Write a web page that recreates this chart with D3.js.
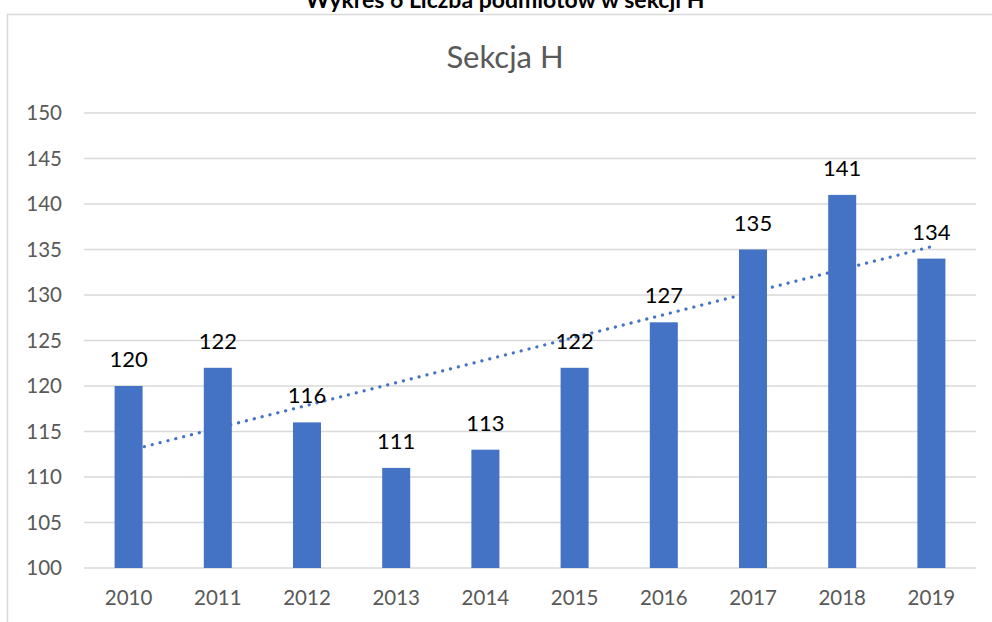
<!DOCTYPE html>
<html><head><meta charset="utf-8">
<script src="https://cdn.jsdelivr.net/npm/d3@7"></script>
<style>html,body{margin:0;padding:0;background:#fff;overflow:hidden}</style>
</head><body>
<svg id="c" width="992" height="622"></svg>
<script>
const years = ["2010","2011","2012","2013","2014","2015","2016","2017","2018","2019"];
const values = [120,122,116,111,113,122,127,135,141,134];
const yTicks = [100,105,110,115,120,125,130,135,140,145,150];
const chartTitle = "Sekcja H";
const pageTitle = "Wykres 6 Liczba podmiotów w sekcji H";

const svg = d3.select("#c");
const font = "Lato, 'Open Sans', sans-serif";
const blue = "#4472C4", grid = "#d9d9d9", txt = "#595959";

// outer title (clipped at top, as in the reference)
svg.append("text").attr("x", 505).attr("y", 8).attr("text-anchor","middle")
  .attr("font-family", font).attr("font-weight","bold").attr("font-size", 23)
  .attr("fill","#000").text(pageTitle);

// chart border
svg.append("rect").attr("x",7.5).attr("y",14.5).attr("width",1100).attr("height",700)
  .attr("fill","none").attr("stroke",grid).attr("stroke-width",1.5);

svg.append("text").attr("x",505).attr("y",68).attr("text-anchor","middle")
  .attr("font-family",font).attr("font-size",31).attr("fill",txt).text(chartTitle);

const x = d3.scaleBand().domain(years).range([84,976]).paddingInner(0.686).paddingOuter(0.343);
const xc = d3.scaleBand().domain(years).range([84,976]);
const y = d3.scaleLinear().domain([100,150]).range([568,113]);

// gridlines
svg.append("g").selectAll("line").data(yTicks).join("line")
  .attr("x1",84).attr("x2",976).attr("y1",d=>y(d)).attr("y2",d=>y(d))
  .attr("stroke",grid).attr("stroke-width",1.5);

// y axis labels
const ya = svg.append("g").attr("transform","translate(62,0)")
  .call(d3.axisLeft(y).tickValues(yTicks).tickSize(0).tickPadding(0));
ya.select(".domain").remove();
ya.selectAll("text").attr("font-family",font).attr("font-size",20.5).attr("fill",txt);

// x axis labels
const xa = svg.append("g").attr("transform","translate(0,568)")
  .call(d3.axisBottom(xc).tickSize(0).tickPadding(22));
xa.select(".domain").remove();
xa.selectAll("text").attr("font-family",font).attr("font-size",20.5).attr("fill",txt);

// bars
svg.append("g").selectAll("rect").data(values).join("rect")
  .attr("x",(d,i)=>x(years[i])).attr("width",x.bandwidth())
  .attr("y",d=>y(d)).attr("height",d=>y(100)-y(d)).attr("fill",blue);

// trendline (linear regression of the data)
const n = values.length;
const xs = values.map((d,i)=>i+1);
const mx = d3.mean(xs), my = d3.mean(values);
const slope = d3.sum(xs.map((v,i)=>(v-mx)*(values[i]-my))) / d3.sum(xs.map(v=>(v-mx)*(v-mx)));
const icpt = my - slope*mx;
const tl = [[years[0], icpt+slope*1],[years[n-1], icpt+slope*n]];
svg.append("path").attr("d", d3.line().x(d=>xc(d[0])+xc.bandwidth()/2).y(d=>y(d[1]))(tl))
  .attr("fill","none").attr("stroke",blue).attr("stroke-width",3.2)
  .attr("stroke-linecap","round").attr("stroke-dasharray","0.1 8");

// value labels
svg.append("g").selectAll("text").data(values).join("text")
  .attr("x",(d,i)=>xc(years[i])+xc.bandwidth()/2).attr("y",d=>y(d)-19)
  .attr("text-anchor","middle").attr("font-family",font).attr("font-size",22)
  .attr("fill","#000").text(d=>d);
</script>
</body></html>
